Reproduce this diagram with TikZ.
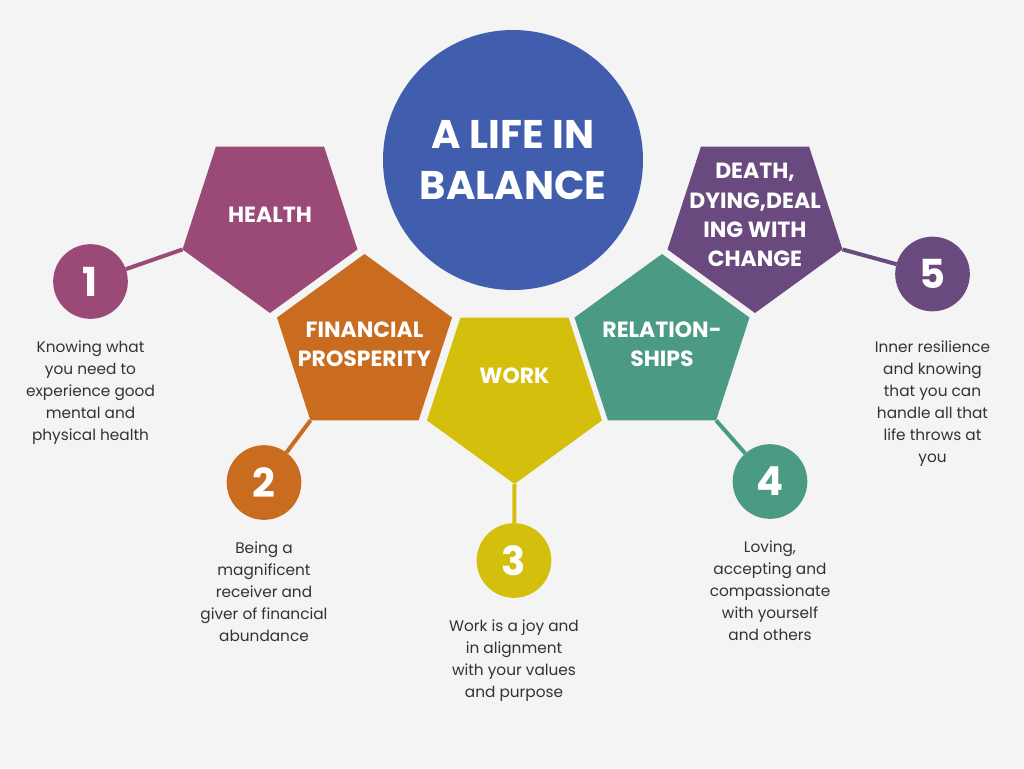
\documentclass[tikz,border=0pt]{standalone}
\usepackage{fontspec}
\setmainfont{Poppins}
\usetikzlibrary{shapes.geometric,positioning}
\definecolor{bgcol}{HTML}{F4F4F4}
\definecolor{healthcol}{HTML}{9B4A78}
\definecolor{moneycol}{HTML}{C96C20}
\definecolor{workcol}{HTML}{D4C00C}
\definecolor{relcol}{HTML}{4A9A84}
\definecolor{deathcol}{HTML}{6A4A7E}
\definecolor{titlecol}{HTML}{405DAE}
\definecolor{textcol}{HTML}{333333}
\begin{document}
\begin{tikzpicture}[x=0.75pt, y=-0.75pt,
  pent/.style={regular polygon, regular polygon sides=5, minimum size=138pt,
    inner sep=0pt, outer sep=0pt, fill=#1},
  pentdown/.style={pent=#1, shape border rotate=180},
  lbl/.style={text=white, align=center, font=\bfseries\fontsize{16.5}{22}\selectfont},
  num/.style={circle, minimum size=56pt, inner sep=0pt, outer sep=0pt, fill=#1,
    text=white, font=\bfseries\fontsize{30}{30}\selectfont},
  desc/.style={text=textcol, align=center, inner sep=0pt,
    font=\fontsize{11.5}{16.5}\selectfont},
  link/.style={draw=#1, line width=3pt}]
  \fill[bgcol] (0,0) rectangle (1024,768);
  \useasboundingbox (0,0) rectangle (1024,768);

  \node[circle, fill=titlecol, minimum size=195pt, text=white, align=center,
    font=\bfseries\fontsize{30}{38}\selectfont] (title) at (513,160) {A LIFE IN\\BALANCE};

  \node[pentdown=healthcol] (health) at (270,221) {};
  \node[pent=moneycol] (money) at (364.5,346) {};
  \node[pentdown=workcol] (work) at (514.5,392) {};
  \node[pent=relcol] (rel) at (662,346) {};
  \node[pentdown=deathcol] (death) at (755,221) {};

  \node[lbl] (healthtxt) at (270,215) {HEALTH};
  \node[lbl] (moneytxt) at (364.5,344) {FINANCIAL\\PROSPERITY};
  \node[lbl] (worktxt) at (514.5,376) {WORK};
  \node[lbl] (reltxt) at (662,344) {RELATION-\\SHIPS};
  \node[lbl] (deathtxt) at (755,215) {DEATH,\\DYING,DEAL\\ING WITH\\CHANGE};

  \node[num=healthcol] (n1) at (90.5,281.5) {1};
  \node[num=moneycol] (n2) at (264,482.5) {2};
  \node[num=workcol] (n3) at (514,560.5) {3};
  \node[num=relcol] (n4) at (770,481.5) {4};
  \node[num=deathcol] (n5) at (932.5,274) {5};

  \draw[link=healthcol] (n1) -- (health.corner 5);
  \draw[link=moneycol] (n2) -- (money.corner 3);
  \draw[link=workcol] (n3) -- (work.corner 1);
  \draw[link=relcol] (n4) -- (rel.corner 4);
  \draw[link=deathcol] (n5) -- (death.corner 2);

  \node[desc, below=16pt of n1] (d1) {Knowing what\\you need to\\experience good\\mental and\\physical health};
  \node[desc, below=16pt of n2] (d2) {Being a\\magnificent\\receiver and\\giver of financial\\abundance};
  \node[desc, below=16pt of n3] (d3) {Work is a joy and\\in alignment\\with your values\\and purpose};
  \node[desc, below=16pt of n4] (d4) {Loving,\\accepting and\\compassionate\\with yourself\\and others};
  \node[desc, below=22pt of n5] (d5) {Inner resilience\\and knowing\\that you can\\handle all that\\life throws at\\you};
\end{tikzpicture}
\end{document}
